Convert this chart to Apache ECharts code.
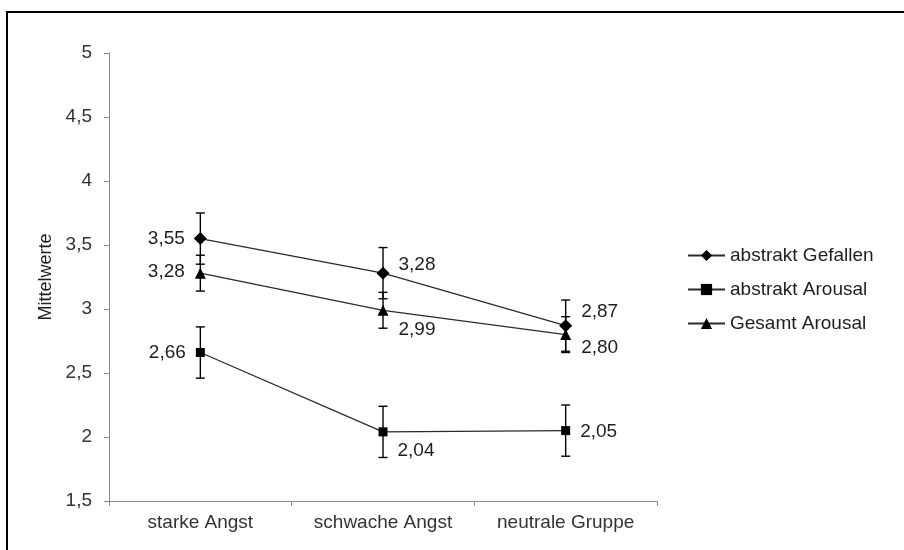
<!DOCTYPE html>
<html>
<head>
<meta charset="utf-8">
<script src="https://cdn.jsdelivr.net/npm/echarts@6/dist/echarts.min.js"></script>
<style>
  html, body { margin: 0; padding: 0; background: #ffffff; }
  #chart { width: 904px; height: 550px; }
</style>
</head>
<body>
<div id="chart"></div>
<script>
// Gruppen (x-Achse)
const categories = ['starke Angst', 'schwache Angst', 'neutrale Gruppe'];

// Mittelwerte je Bedingung
const gefallenMeans = [3.55, 3.28, 2.87];
const abstraktArousalMeans = [2.66, 2.04, 2.05];
const gesamtArousalMeans = [3.28, 2.99, 2.80];

// Fehlerbalken (± Standardfehler)
const gefallenErr = [0.20, 0.20, 0.20];
const abstraktArousalErr = [0.20, 0.20, 0.20];
const gesamtArousalErr = [0.14, 0.14, 0.14];

// Achsenbereich und Beschriftung der y-Achse
const yMin = 1.5, yMax = 5, yStep = 0.5;

const seriesNames = ['abstrakt Gefallen', 'abstrakt Arousal', 'Gesamt Arousal'];

const FONT = '"Liberation Sans", Arial, sans-serif';
const fmt = v => v.toFixed(2).replace('.', ',');

// Beschriftungslage je Punkt: [Position, vertikaler Versatz]
const gefallenLabelPos = [['left', 0], ['right', -8], ['right', -14]];
const abstraktLabelPos = [['left', 0], ['right', 19], ['right', 1]];
const gesamtLabelPos = [['left', -1], ['right', 19], ['right', 13]];

function pointData(means, placement, dist) {
  return means.map((v, i) => ({
    value: v,
    label: {
      position: placement[i][0],
      distance: dist,
      offset: [0, placement[i][1]]
    }
  }));
}

function errData(means, errs) {
  return means.map((v, i) => [i, v - errs[i], v + errs[i]]);
}

function errorSeries(data) {
  return {
    type: 'custom',
    z: 1,
    silent: true,
    data: data,
    renderItem: function (params, api) {
      const x = api.value(0);
      const lo = api.coord([x, api.value(1)]);
      const hi = api.coord([x, api.value(2)]);
      const cap = 4.5;
      const style = { stroke: '#000', lineWidth: 1.4 };
      return {
        type: 'group',
        children: [
          { type: 'line', shape: { x1: hi[0], y1: hi[1], x2: lo[0], y2: lo[1] }, style: style },
          { type: 'line', shape: { x1: hi[0] - cap, y1: hi[1], x2: hi[0] + cap, y2: hi[1] }, style: style },
          { type: 'line', shape: { x1: lo[0] - cap, y1: lo[1], x2: lo[0] + cap, y2: lo[1] }, style: style }
        ]
      };
    }
  };
}

const labelStyle = {
  show: true,
  color: '#1e1e1e',
  fontFamily: FONT,
  fontSize: 19,
  formatter: p => fmt(p.value)
};

const lineStyle = { color: '#2a2a2a', width: 1.3 };

const chart = echarts.init(document.getElementById('chart'), null, { renderer: 'canvas' });

chart.setOption({
  backgroundColor: '#ffffff',
  animation: false,
  graphic: [{
    type: 'rect',
    shape: { x: 7, y: 12, width: 1000, height: 1000 },
    style: { fill: 'none', stroke: '#000', lineWidth: 2 },
    silent: true,
    z: 100
  }],
  grid: { left: 109, right: 247, top: 53, bottom: 49 },
  legend: {
    orient: 'vertical',
    left: 687,
    top: 246,
    padding: 0,
    itemWidth: 37,
    itemHeight: 14,
    itemGap: 15,
    data: seriesNames,
    textStyle: { fontFamily: FONT, fontSize: 19, color: '#1e1e1e' }
  },
  xAxis: {
    type: 'category',
    data: categories,
    boundaryGap: true,
    axisLine: { lineStyle: { color: '#8c8c8c', width: 1 } },
    axisTick: { show: true, length: 5, lineStyle: { color: '#8c8c8c' } },
    axisLabel: { fontFamily: FONT, fontSize: 19, color: '#333', margin: 12 }
  },
  yAxis: {
    type: 'value',
    min: yMin,
    max: yMax,
    interval: yStep,
    name: 'Mittelwerte',
    nameLocation: 'middle',
    nameRotate: 90,
    nameGap: 53,
    nameTextStyle: { fontFamily: FONT, fontSize: 18, color: '#1e1e1e' },
    axisLine: { show: true, lineStyle: { color: '#8c8c8c', width: 1 } },
    axisTick: { show: true, length: 5, lineStyle: { color: '#8c8c8c' } },
    splitLine: { show: false },
    axisLabel: {
      fontFamily: FONT, fontSize: 19, color: '#333', margin: 17,
      formatter: v => String(v).replace('.', ',')
    }
  },
  series: [
    errorSeries(errData(gefallenMeans, gefallenErr)),
    errorSeries(errData(abstraktArousalMeans, abstraktArousalErr)),
    errorSeries(errData(gesamtArousalMeans, gesamtArousalErr)),
    {
      name: seriesNames[0],
      type: 'line',
      z: 3,
      symbol: 'diamond',
      symbolSize: 13,
      itemStyle: { color: '#000' },
      lineStyle: lineStyle,
      label: labelStyle,
      data: pointData(gefallenMeans, gefallenLabelPos, 9)
    },
    {
      name: seriesNames[1],
      type: 'line',
      z: 3,
      symbol: 'rect',
      symbolSize: 9,
      itemStyle: { color: '#000' },
      lineStyle: lineStyle,
      label: labelStyle,
      data: pointData(abstraktArousalMeans, abstraktLabelPos, 10)
    },
    {
      name: seriesNames[2],
      type: 'line',
      z: 3,
      symbol: 'triangle',
      symbolSize: 11,
      itemStyle: { color: '#000' },
      lineStyle: lineStyle,
      label: labelStyle,
      data: pointData(gesamtArousalMeans, gesamtLabelPos, 10)
    }
  ]
});
</script>
</body>
</html>
